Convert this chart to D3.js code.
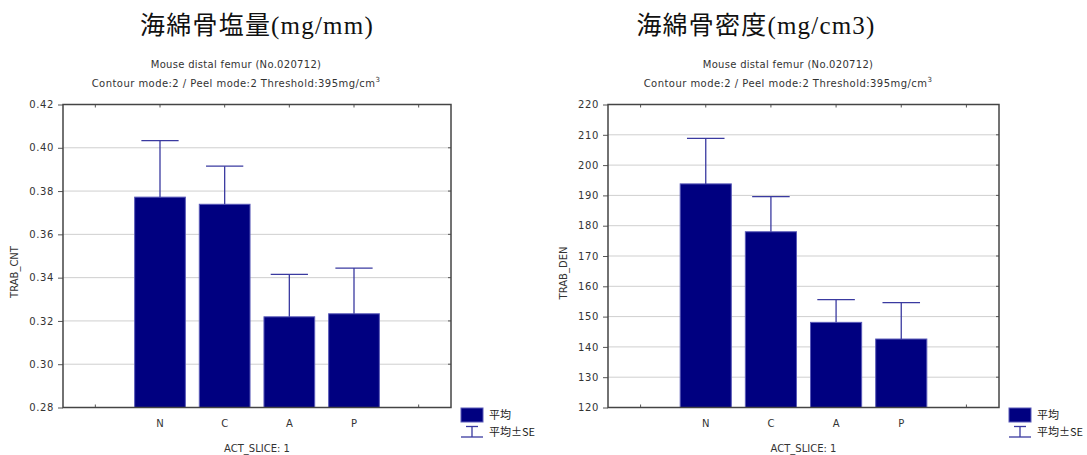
<!DOCTYPE html>
<html>
<head>
<meta charset="utf-8">
<script src="https://cdn.jsdelivr.net/npm/d3@7/dist/d3.min.js"></script>
<style>
  html, body { margin: 0; padding: 0; background: #fff; }
  svg { display: block; }
  .tick-label { font-family: "DejaVu Sans", sans-serif; font-size: 10px; fill: #333; }
  .title { font-family: "Liberation Serif", "Noto Sans CJK JP", serif; font-size: 25px; fill: #111; }
  .sub { font-family: "DejaVu Sans", sans-serif; font-size: 10px; fill: #333; }
  .legend { font-family: "Noto Sans CJK JP", "DejaVu Sans", sans-serif; font-size: 11px; fill: #222; }
</style>
</head>
<body>
<svg id="chart" width="1087" height="455"></svg>
<script>
// Group labels along ACT_SLICE: 1 (blank slots pad each end of the axis)
const categories = ["N", "C", "A", "P"];

// Trabecular mineral content (mg/mm)
const cntMean = [0.3772, 0.3739, 0.3219, 0.3233];
const cntUpper = [0.4033, 0.3915, 0.3415, 0.3444];
const cntTicks = [0.28, 0.30, 0.32, 0.34, 0.36, 0.38, 0.40, 0.42];

// Trabecular density (mg/cm3)
const denMean = [193.8, 178.0, 148.1, 142.6];
const denUpper = [208.8, 189.6, 155.6, 154.6];
const denTicks = [120, 130, 140, 150, 160, 170, 180, 190, 200, 210, 220];

const svg = d3.select("#chart");

function panel(opt) {
  const g = svg.append("g");
  const slots = ["_l"].concat(categories, ["_r"]);
  const x = d3.scaleBand().domain(slots).range([opt.x0, opt.x1])
    .paddingInner(0.2).paddingOuter(0.1);
  const y = d3.scaleLinear().domain(opt.domain).range([opt.y1, opt.y0]);
  const bw = x.bandwidth();

  // titles
  g.append("text").attr("class", "title").attr("x", opt.titleX).attr("y", 34)
    .attr("text-anchor", "middle").attr("letter-spacing", "1.2px").text(opt.title);
  g.append("text").attr("class", "sub").attr("x", opt.subX).attr("y", 68)
    .attr("text-anchor", "middle").attr("letter-spacing", "0.3px")
    .text("Mouse distal femur (No.020712)");
  const s2 = g.append("text").attr("class", "sub").attr("x", opt.subX).attr("y", 87)
    .attr("text-anchor", "middle").attr("letter-spacing", "0.45px");
  s2.append("tspan").text("Contour mode:2 / Peel mode:2 Threshold:395mg/cm");
  s2.append("tspan").attr("dy", -5).attr("font-size", "7px").text("3");

  // grid
  g.append("g").selectAll("line").data(opt.ticks.slice(1, -1)).join("line")
    .attr("x1", opt.x0).attr("x2", opt.x1)
    .attr("y1", d => y(d)).attr("y2", d => y(d))
    .attr("stroke", "#cfcfcf").attr("stroke-width", 1);

  // y axis
  const ya = g.append("g").attr("transform", `translate(${opt.x0},0)`)
    .call(d3.axisLeft(y).tickValues(opt.ticks).tickFormat(opt.fmt).tickSize(5).tickPadding(4));
  ya.select(".domain").remove();
  ya.selectAll("line").attr("stroke", "#555");
  ya.selectAll("text").attr("class", "tick-label").attr("letter-spacing", "0.6px");

  // right ticks (inward)
  g.append("g").selectAll("line").data(opt.ticks).join("line")
    .attr("x1", opt.x1 - 3).attr("x2", opt.x1)
    .attr("y1", d => y(d)).attr("y2", d => y(d)).attr("stroke", "#555");

  // x axis
  const xa = g.append("g").attr("transform", `translate(0,${opt.y1})`)
    .call(d3.axisBottom(x).tickFormat(d => d.startsWith("_") ? "" : d).tickSize(-3).tickPadding(12));
  xa.select(".domain").remove();
  xa.selectAll("line").attr("stroke", "#555");
  xa.selectAll("text").attr("class", "tick-label");

  // top ticks (inward)
  g.append("g").selectAll("line").data(slots).join("line")
    .attr("x1", d => x(d) + bw / 2).attr("x2", d => x(d) + bw / 2)
    .attr("y1", opt.y0).attr("y2", opt.y0 + 3).attr("stroke", "#555");

  // bars
  const data = categories.map((c, i) => ({ c, m: opt.mean[i], u: opt.upper[i] }));
  g.append("g").selectAll("rect").data(data).join("rect")
    .attr("x", d => x(d.c) + 0.5).attr("width", bw - 1)
    .attr("y", d => y(d.m)).attr("height", d => y(opt.domain[0]) - y(d.m))
    .attr("fill", "#000080").attr("stroke", "#5a5ab8").attr("stroke-width", 1);

  // error bars (+SE)
  const eb = g.append("g").attr("stroke", "#3a3aa0").attr("stroke-width", 1.3);
  eb.selectAll("line.v").data(data).join("line").attr("class", "v")
    .attr("x1", d => x(d.c) + bw / 2).attr("x2", d => x(d.c) + bw / 2)
    .attr("y1", d => y(d.m)).attr("y2", d => y(d.u));
  eb.selectAll("line.h").data(data).join("line").attr("class", "h")
    .attr("x1", d => x(d.c) + bw / 2 - bw * 0.36).attr("x2", d => x(d.c) + bw / 2 + bw * 0.36)
    .attr("y1", d => y(d.u)).attr("y2", d => y(d.u));

  // frame
  g.append("rect").attr("x", opt.x0).attr("y", opt.y0)
    .attr("width", opt.x1 - opt.x0).attr("height", opt.y1 - opt.y0)
    .attr("fill", "none").attr("stroke", "#444").attr("stroke-width", 1.5);

  // axis titles
  g.append("text").attr("class", "tick-label")
    .attr("transform", `translate(${opt.yLabX},${opt.yLabY}) rotate(-90)`)
    .attr("text-anchor", "middle").text(opt.yLabel);
  g.append("text").attr("class", "tick-label").attr("x", (opt.x0 + opt.x1) / 2).attr("y", 452)
    .attr("text-anchor", "middle").text("ACT_SLICE: 1");

  // legend
  const lx = opt.legX;
  g.append("rect").attr("x", lx).attr("y", 408).attr("width", 22).attr("height", 14)
    .attr("fill", "#000080").attr("stroke", "#5a5ab8");
  g.append("text").attr("class", "legend").attr("x", lx + 28).attr("y", 419).text("平均");
  const le = g.append("g").attr("stroke", "#3a3aa0").attr("stroke-width", 1.3);
  le.append("line").attr("x1", lx + 11).attr("x2", lx + 11).attr("y1", 426).attr("y2", 437);
  le.append("line").attr("x1", lx + 5).attr("x2", lx + 17).attr("y1", 426.5).attr("y2", 426.5);
  le.append("line").attr("x1", lx).attr("x2", lx + 22).attr("y1", 437).attr("y2", 437);
  g.append("text").attr("class", "legend").attr("x", lx + 28).attr("y", 436).text("平均±SE");
}

panel({
  x0: 63, x1: 451, y0: 104.5, y1: 407.5,
  domain: [0.28, 0.42], ticks: cntTicks, fmt: d3.format(".2f"),
  mean: cntMean, upper: cntUpper,
  title: "海綿骨塩量(mg/mm)", titleX: 257, subX: 236,
  yLabel: "TRAB_CNT", yLabX: 18, yLabY: 272, legX: 461
});

panel({
  x0: 608, x1: 999, y0: 104.5, y1: 407.5,
  domain: [120, 220], ticks: denTicks, fmt: d3.format("d"),
  mean: denMean, upper: denUpper,
  title: "海綿骨密度(mg/cm3)", titleX: 756, subX: 788,
  yLabel: "TRAB_DEN", yLabX: 567, yLabY: 273, legX: 1009
});
</script>
</body>
</html>
